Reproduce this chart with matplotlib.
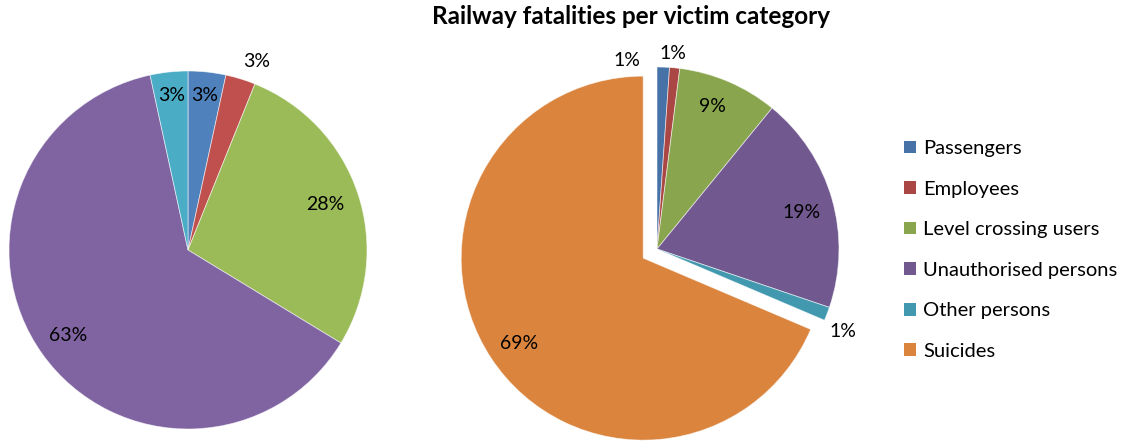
import matplotlib.pyplot as plt
import numpy as np
from matplotlib.patches import Patch

categories = ["Passengers", "Employees", "Level crossing users",
              "Unauthorised persons", "Other persons", "Suicides"]

# left pie (no suicides shown)
left_values = [3.4, 2.7, 27.6, 62.9, 3.4]
left_labels = ["3%", "3%", "28%", "63%", "3%"]

# right pie
right_values = [1.1, 0.9, 8.9, 19.3, 1.2, 68.6]
right_labels = ["1%", "1%", "9%", "19%", "1%", "69%"]

title = "Railway fatalities per victim category"

left_colors = ["#4F81BD", "#C0504D", "#9BBB59", "#8064A2", "#4BACC6"]
right_colors = ["#4672A8", "#AA4643", "#89A54E", "#71588F", "#4198AF", "#DB843D"]

# label placement: (radius factor, angle shift in degrees, ccw)
left_pos = [(0.87, 0), (1.12, -3), (0.81, 0), (0.82, 0), (0.87, 0)]
right_pos = [(1.05, 11), (1.08, 1), (0.84, 2), (0.82, -2), (1.12, -3), (0.83, 1)]

plt.rcParams['font.family'] = ['Lato', 'DejaVu Sans']

W, H = 1122, 441
fig = plt.figure(figsize=(W / 100, H / 100), dpi=100)


def make_ax(cx, cy, r, half=210):
    ax = fig.add_axes([(cx - half) / W, (H - cy - half) / H, 2 * half / W, 2 * half / H])
    return ax, half / r


def draw_pie(ax, lim, values, labels, colors, pos, explode=None):
    wedges, _ = ax.pie(values, colors=colors, startangle=90, counterclock=False,
                       explode=explode, radius=1.0,
                       wedgeprops=dict(edgecolor=(1, 1, 1, 0.6), linewidth=0.6))
    ax.set_xlim(-lim, lim)
    ax.set_ylim(-lim, lim)
    ax.set_aspect('equal')
    ax.axis('off')
    for w, lab, (rf, shift) in zip(wedges, labels, pos):
        mid = np.deg2rad((w.theta1 + w.theta2) / 2 + shift)
        cx, cy = w.center
        ax.text(cx + rf * np.cos(mid), cy + rf * np.sin(mid), lab,
                ha='center', va='center', fontsize=14, color='black')
    return wedges


ax1, lim1 = make_ax(188, 250, 179)
draw_pie(ax1, lim1, left_values, left_labels, left_colors, left_pos)

ax2, lim2 = make_ax(657, 249, 182)
explode = [0, 0, 0, 0, 0, 0.091]
draw_pie(ax2, lim2, right_values, right_labels, right_colors, right_pos, explode)

fig.text(631 / W, 1 - 16 / H, title, ha='center', va='center',
         fontsize=17.5, fontweight='bold')

handles = [Patch(facecolor=c, edgecolor='none') for c in right_colors]
fig.legend(handles, categories, loc='upper left',
           bbox_to_anchor=(904 / W, 1 - 140 / H), frameon=False,
           fontsize=14.5, handlelength=0.6, handleheight=0.6,
           handletextpad=0.35, labelspacing=1.17, borderpad=0, borderaxespad=0)

fig.savefig("out.png", dpi=100)
